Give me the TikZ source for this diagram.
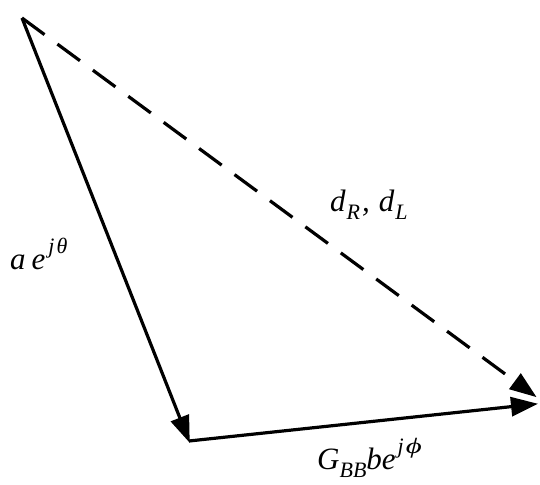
\documentclass[tikz,border=0pt]{standalone}
\usepackage{fontspec}
\setmainfont{Liberation Serif}
\usetikzlibrary{arrows.meta}
\newcommand{\mysup}[1]{\raisebox{16pt}{\fontsize{22}{22}\selectfont\itshape #1}}
\newcommand{\mysub}[1]{\raisebox{-8pt}{\fontsize{22}{22}\selectfont\itshape #1}}
\begin{document}
\begin{tikzpicture}[x=1pt,y=1pt,
  vec/.style={line width=3.2pt, -{Triangle[length=27pt,width=19pt]}, shorten >=-2pt},
  dvec/.style={vec, dash pattern=on 28pt off 16pt},
  lbl/.style={font=\fontsize{31}{34}\selectfont\itshape, inner sep=0pt, anchor=base west}]
\useasboundingbox (0,0) rectangle (540,484);
\coordinate (A) at (22,466);
\coordinate (B) at (189,43);
\coordinate (C) at (536,80);
\coordinate (D) at (535,88);
\draw[dvec] (A) -- (D);
\draw[vec] (A) -- (B);
\draw[vec] (B) -- (C);
\node[lbl] (la) at (10,214) {a\kern6pt e\kern3pt\mysup{j\kern2ptθ}};
\node[lbl] (ld) at (330,272) {d\kern1pt\mysub{R}\kern2pt,\kern9pt d\kern1pt\mysub{L}};
\node[lbl] (lg) at (317,15) {G\kern0pt\mysub{BB}\kern0pt b\kern0pt e\kern2pt\mysup{j\kern2pt\scalebox{1.4}[1]{ϕ}}};
\end{tikzpicture}
\end{document}
